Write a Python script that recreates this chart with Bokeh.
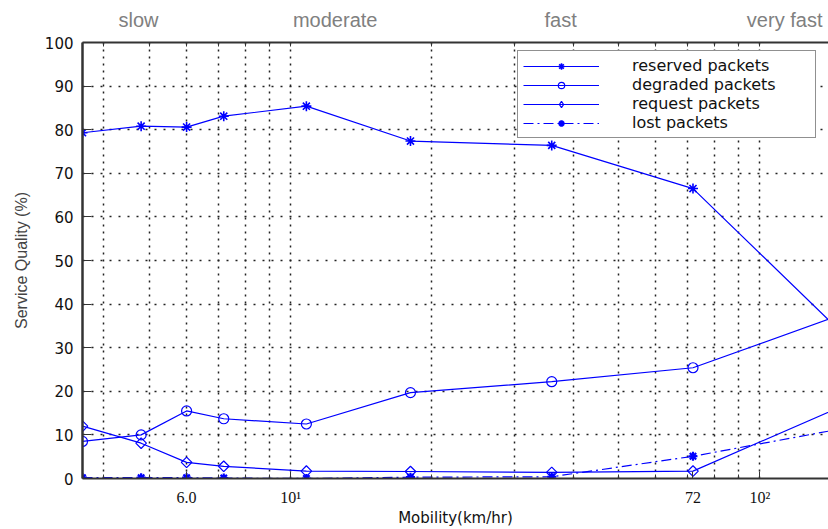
import numpy as np
from bokeh.plotting import figure
from bokeh.models import FixedTicker, LogAxis, Legend, LegendItem, Range1d
from bokeh.embed import file_html
from bokeh.resources import INLINE

# ---- data ----
speed = [3.6, 4.8, 6.0, 7.2, 10.8, 18, 36, 72, 144]
reserved = [79.3, 80.8, 80.6, 83.1, 85.4, 77.4, 76.4, 66.5, 35.1]
degraded = [8.5, 10.0, 15.5, 13.7, 12.5, 19.7, 22.2, 25.4, 37.0]
request = [12.0, 8.1, 3.7, 2.8, 1.7, 1.6, 1.4, 1.7, 15.8]
lost = [0.2, 0.2, 0.2, 0.1, 0.0, 0.3, 0.4, 5.1, 11.1]

y_ticks = [0, 10, 20, 30, 40, 50, 60, 70, 80, 90, 100]
x_tick_values = [6, 10, 72, 100]
x_tick_labels = ["6.0", "10\u00b9", "72", "10\u00b2"]
x_minor = [4, 5, 7, 8, 9, 20, 30, 40, 50, 60, 70, 80, 90]
x_grid = [4, 5, 6, 7, 8, 9, 10, 20, 30, 40, 50, 60, 70, 80, 90, 100]
regime_pos = [4.74, 12.44, 37.6, 112.9]
regime_labels = ["slow", "moderate", "fast", "very fast"]

BLUE = "#0000ff"

p = figure(width=828, height=529, x_axis_type="log",
           x_range=Range1d(3.6, 140), y_range=Range1d(0, 100),
           output_backend="svg", toolbar_location=None,
           min_border_left=82, min_border_right=0,
           min_border_top=42, min_border_bottom=51)
p.outline_line_color = None
p.background_fill_color = "white"
p.border_fill_color = "white"

# grids
p.xgrid.ticker = FixedTicker(ticks=x_grid)
p.xgrid.grid_line_color = "#222222"
p.xgrid.grid_line_dash = "2 5"
p.xgrid.grid_line_width = 1.5
p.ygrid.ticker = FixedTicker(ticks=y_ticks[1:-1])
p.ygrid.grid_line_color = "#222222"
p.ygrid.grid_line_dash = "2 7"
p.ygrid.grid_line_width = 1.5

# bottom axis
xa = p.xaxis[0]
xa.ticker = FixedTicker(ticks=x_tick_values, minor_ticks=x_minor)
xa.major_label_overrides = dict(zip(x_tick_values, x_tick_labels))
xa.major_tick_in = 7
xa.major_tick_out = 0
xa.minor_tick_in = 4
xa.minor_tick_out = 0
xa.axis_line_width = 2
xa.axis_line_color = "#333333"
xa.major_tick_line_color = "#333333"
xa.minor_tick_line_color = "#333333"
xa.major_label_text_font = "Liberation Serif"
xa.major_label_text_font_size = "16px"
xa.major_label_text_color = "#111111"
xa.major_label_standoff = 10
xa.axis_label = "Mobility(km/hr)"
xa.axis_label_text_font = "DejaVu Sans"
xa.axis_label_text_font_size = "15px"
xa.axis_label_text_font_style = "normal"
xa.axis_label_text_color = "#111111"
xa.axis_label_standoff = 0

# left axis
ya = p.yaxis[0]
ya.ticker = FixedTicker(ticks=y_ticks)
ya.major_tick_in = 9
ya.major_tick_out = 0
ya.minor_tick_line_color = None
ya.axis_line_width = 2.5
ya.axis_line_color = "#333333"
ya.major_tick_line_color = "#333333"
ya.major_label_text_font = "DejaVu Sans"
ya.major_label_text_font_size = "15px"
ya.major_label_text_color = "#111111"
ya.major_label_standoff = 9
ya.axis_label = "Service Quality (%)"
ya.axis_label_text_font = "Liberation Sans"
ya.axis_label_text_font_size = "16px"
ya.axis_label_text_font_style = "normal"
ya.axis_label_text_color = "#444444"
ya.axis_label_standoff = 12

# top axis with mobility regimes
top = LogAxis(ticker=FixedTicker(ticks=regime_pos, minor_ticks=x_grid),
              major_label_overrides=dict(zip(regime_pos, regime_labels)))
top.major_tick_line_color = None
top.minor_tick_in = 4
top.minor_tick_out = 0
top.minor_tick_line_color = "#333333"
top.axis_line_width = 2
top.axis_line_color = "#333333"
top.major_label_text_font = "Liberation Sans"
top.major_label_text_font_size = "20px"
top.major_label_text_color = "#808080"
top.major_label_standoff = 6
p.add_layout(top, "above")

# series
r1l = p.line(speed, reserved, line_color=BLUE, line_width=1.2)
r1m = p.scatter(speed, reserved, marker="asterisk", size=10, line_color=BLUE, line_width=1.6)
r2l = p.line(speed, degraded, line_color=BLUE, line_width=1.2)
r2m = p.scatter(speed, degraded, marker="circle", size=10, line_color=BLUE,
                fill_color=None, line_width=1.2)
r3l = p.line(speed, request, line_color=BLUE, line_width=1.2)
r3m = p.scatter(speed, request, marker="square", angle=np.pi / 4, size=7.5,
                line_color=BLUE, fill_color=None, line_width=1.2)
# diamond marker used only for the legend key (hidden in the plot area)
r3k = p.scatter(speed, request, marker="diamond", size=12, line_color=BLUE,
                fill_color=None, line_width=1.2, visible=False)
r4l = p.line(speed, lost, line_color=BLUE, line_width=1.2, line_dash="10 4 2 4")
r4m = p.scatter(speed, lost, marker="asterisk", size=9, line_color=BLUE, line_width=2.2)

legend = Legend(items=[
    LegendItem(label="reserved packets", renderers=[r1l, r1m]),
    LegendItem(label="degraded packets", renderers=[r2l, r2m]),
    LegendItem(label="request packets", renderers=[r3l, r3k]),
    LegendItem(label="lost packets", renderers=[r4l, r4m]),
], location=(435, 340))
legend.label_text_font = "DejaVu Sans"
legend.label_text_font_size = "16px"
legend.label_text_color = "#111111"
legend.border_line_color = "#222222"
legend.border_line_width = 1.5
legend.background_fill_color = "white"
legend.background_fill_alpha = 1.0
legend.inactive_fill_alpha = 0.0
legend.padding = 5
legend.spacing = 0
legend.margin = 0
legend.glyph_width = 76
legend.glyph_height = 16
legend.label_height = 16
legend.label_standoff = 33
legend.label_width = 178
p.add_layout(legend)

open("out.html", "w").write(file_html(p, INLINE))
